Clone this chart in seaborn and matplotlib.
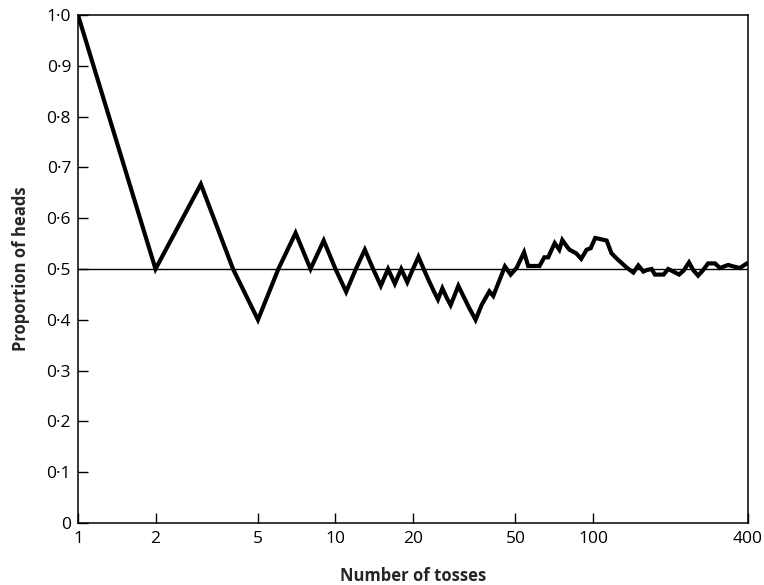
import matplotlib
matplotlib.use("Agg")
import matplotlib.pyplot as plt
import seaborn as sns
import pandas as pd

# Running proportion of heads after each toss (vertices of the path)
tosses = [1, 2, 3, 4, 5, 6, 7, 8, 9, 10, 11, 12, 13, 14, 15, 16, 17, 18, 19,
          20, 21, 22, 23, 24, 25, 26, 27, 28, 29, 30, 31, 32, 33, 34, 35,
          37, 39.6, 41, 45.5, 47.9, 50.5, 54, 56, 62, 64.7, 67, 71, 74, 76,
          79, 81, 86, 90, 94.5, 98, 102, 106.5, 113, 118, 124, 135, 143.5,
          150, 157, 162, 169, 174, 188, 196, 205, 216, 225, 236, 245, 256,
          267, 280, 298, 311, 335, 351, 372, 396, 400]
proportion = [1.0, 0.5, 0.667, 0.5, 0.4, 0.5, 0.571, 0.5, 0.556, 0.5, 0.455,
              0.5, 0.538, 0.5, 0.467, 0.5, 0.471, 0.5, 0.474, 0.5, 0.524,
              0.5, 0.478, 0.458, 0.44, 0.462, 0.444, 0.429, 0.448, 0.467,
              0.452, 0.438, 0.424, 0.412, 0.4,
              0.43, 0.456, 0.447, 0.505, 0.489, 0.502, 0.533, 0.506, 0.506,
              0.523, 0.523, 0.551, 0.538, 0.557, 0.545, 0.538, 0.531, 0.520,
              0.538, 0.541, 0.561, 0.559, 0.556, 0.531, 0.520, 0.503, 0.493,
              0.507, 0.495, 0.498, 0.5, 0.489, 0.489, 0.5, 0.495, 0.489,
              0.497, 0.513, 0.498, 0.487, 0.497, 0.511, 0.511, 0.502, 0.508,
              0.505, 0.502, 0.511, 0.51]

x_ticks = [1, 2, 5, 10, 20, 50, 100, 400]
x_tick_labels = ["1", "2", "5", "10", "20", "50", "100", "400"]
y_ticks = [0, 0.1, 0.2, 0.3, 0.4, 0.5, 0.6, 0.7, 0.8, 0.9, 1.0]
y_tick_labels = ["0", "0·1", "0·2", "0·3", "0·4", "0·5", "0·6", "0·7",
                 "0·8", "0·9", "1·0"]

sns.set_style("ticks")
plt.rcParams["font.family"] = ["Open Sans", "DejaVu Sans"]

df = pd.DataFrame({"tosses": tosses, "proportion": proportion})

fig = plt.figure(figsize=(7.64, 5.85), dpi=100)
ax = fig.add_axes([78 / 764, 1 - 523 / 585, 670 / 764, 508 / 585])

ax.axhline(0.5, color="black", lw=1.0, zorder=1)
sns.lineplot(data=df, x="tosses", y="proportion", ax=ax, color="black",
             lw=3.0, sort=False, estimator=None, zorder=2,
             solid_joinstyle="miter")

ax.set_xscale("log")
ax.set_xlim(1, 400)
ax.set_ylim(0, 1.0)
ax.set_xticks(x_ticks)
ax.set_xticklabels(x_tick_labels)
ax.minorticks_off()
ax.set_yticks(y_ticks)
ax.set_yticklabels(y_tick_labels)

ax.tick_params(axis="both", direction="in", length=7, width=1.0,
               labelsize=12.5, colors="black")
ax.tick_params(axis="x", pad=6)
ax.tick_params(axis="y", pad=5)
for side in ["left", "bottom", "top", "right"]:
    ax.spines[side].set_visible(True)
    ax.spines[side].set_linewidth(1.1)
    ax.spines[side].set_color("black")

ax.set_xlabel("Number of tosses", fontsize=12, fontweight="bold", labelpad=14)
ax.set_ylabel("Proportion of heads", fontsize=12, fontweight="bold",
              labelpad=12)

fig.savefig("out.png", dpi=100)
